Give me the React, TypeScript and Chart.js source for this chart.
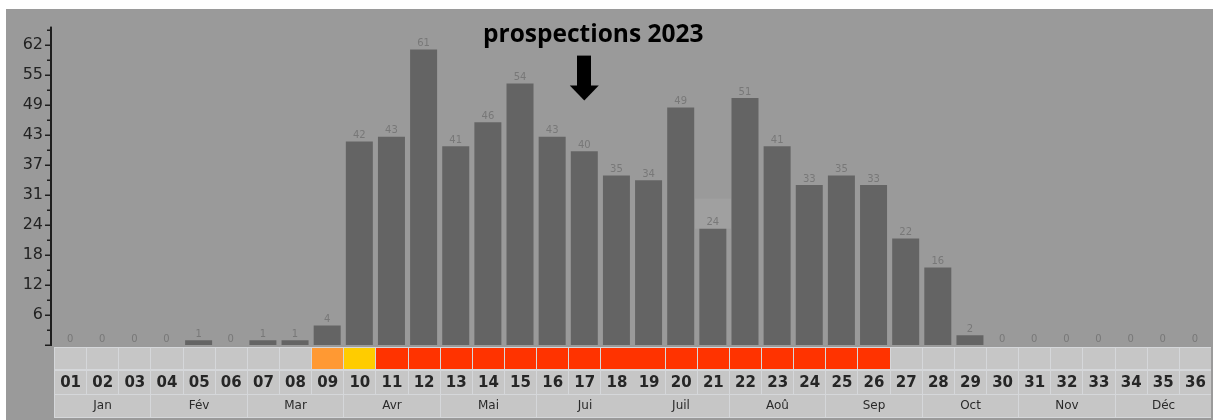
import React, { useEffect, useRef } from 'react';
import { Chart, registerables } from 'chart.js';

Chart.register(...registerables);

// ---- data ----
const weeks = ['01','02','03','04','05','06','07','08','09','10','11','12','13','14','15','16','17','18','19','20','21','22','23','24','25','26','27','28','29','30','31','32','33','34','35','36'];
const counts = [0,0,0,0,1,0,1,1,4,42,43,61,41,46,54,43,40,35,34,49,24,51,41,33,35,33,22,16,2,0,0,0,0,0,0,0];
// 0 = none, 1 = orange, 2 = yellow, 3 = red
const weekStatus = [0,0,0,0,0,0,0,0,1,2,3,3,3,3,3,3,3,3,3,3,3,3,3,3,3,3,0,0,0,0,0,0,0,0,0,0];
const months = ['Jan','Fév','Mar','Avr','Mai','Jui','Juil','Aoû','Sep','Oct','Nov','Déc'];
const weeksPerMonth = 3;
const yTickLabels = ['6','12','18','24','31','37','43','49','55','62'];
const yStep = 3.1;
const yMax = 65.1;
const titleText = 'prospections 2023';
const arrowWeek = '17';
const highlightWeek = '21';

// ---- styles ----
const BG = '#9a9a9a';
const BAR = '#646464';
const CELL = '#c6c6c6';
const SEP = '#d5d7da';
const STATUS_COLORS = [CELL, '#ff9933', '#ffcc00', '#ff3300'];

const decorPlugin = {
  id: 'decor',
  beforeDatasetsDraw(chart: any) {
    const ctx = chart.ctx;
    const meta = chart.getDatasetMeta(0);
    const idx = weeks.indexOf(highlightWeek);
    const el = meta.data[idx];
    if (el) {
      ctx.save();
      ctx.fillStyle = '#a0a0a0';
      const w = chart.scales.x.width / weeks.length;
      ctx.fillRect(Math.round(el.x - w / 2 - 2), el.y - 30, Math.round(w + 4), 30);
      ctx.restore();
    }
  },
  afterDraw(chart: any) {
    const ctx = chart.ctx;
    const area = chart.chartArea;
    const xs = chart.scales.x;
    const ys = chart.scales.y;
    const meta = chart.getDatasetMeta(0);
    const cw = xs.width / weeks.length;
    ctx.save();

    // y axis line + ticks
    const axX = area.left - 4;
    ctx.fillStyle = '#1e1e1e';
    ctx.fillRect(axX, area.top - 3, 2, area.bottom - area.top + 4);
    ys.ticks.forEach((t: any, i: number) => {
      const py = Math.round(ys.getPixelForValue(t.value));
      const len = i % 2 === 0 ? 5 : 3;
      ctx.fillRect(axX - len, py - 0.5, len + 1, 1.5);
    });

    // value labels
    ctx.font = '10px "DejaVu Sans"';
    ctx.fillStyle = '#787878';
    ctx.textAlign = 'center';
    ctx.textBaseline = 'bottom';
    meta.data.forEach((el: any, i: number) => {
      ctx.fillText(String(counts[i]), el.x, el.y - 1);
    });

    // bottom rows
    const b = area.bottom;
    ctx.fillStyle = SEP;
    ctx.fillRect(Math.round(area.left), b + 2, Math.round(area.right - area.left), 71);
    const rowColor = { y: b + 3, h: 21 };
    const rowWeek = { y: b + 26, h: 23 };
    const rowMonth = { y: b + 50, h: 22 };
    weeks.forEach((wk, i) => {
      const cx = xs.getPixelForValue(i);
      const x0 = Math.round(cx - cw / 2) + 1;
      const x1 = Math.round(cx + cw / 2);
      ctx.fillStyle = STATUS_COLORS[weekStatus[i]];
      ctx.fillRect(x0, rowColor.y, x1 - x0, rowColor.h);
      ctx.fillStyle = CELL;
      ctx.fillRect(x0, rowWeek.y, x1 - x0, rowWeek.h);
    });
    ctx.font = 'bold 15px "DejaVu Sans"';
    ctx.fillStyle = '#262626';
    ctx.textBaseline = 'middle';
    weeks.forEach((wk, i) => {
      const cx = xs.getPixelForValue(i);
      ctx.fillText(wk, cx + 0.5, rowWeek.y + rowWeek.h / 2 + 1);
    });
    ctx.font = '12px "DejaVu Sans"';
    months.forEach((m, j) => {
      const first = j * weeksPerMonth;
      const last = first + weeksPerMonth - 1;
      const x0 = Math.round(xs.getPixelForValue(first) - cw / 2) + 1;
      const x1 = Math.round(xs.getPixelForValue(last) + cw / 2);
      ctx.fillStyle = CELL;
      ctx.fillRect(x0, rowMonth.y, x1 - x0, rowMonth.h);
      ctx.fillStyle = '#2a2a2a';
      ctx.fillText(m, (x0 + x1) / 2, rowMonth.y + rowMonth.h / 2);
    });

    // arrow
    const ax = xs.getPixelForValue(weeks.indexOf(arrowWeek));
    const t = area.top;
    ctx.fillStyle = '#000';
    ctx.fillRect(Math.round(ax - 7), t + 26, 14, 31);
    ctx.beginPath();
    ctx.moveTo(ax - 14.5, t + 56);
    ctx.lineTo(ax + 14.5, t + 56);
    ctx.lineTo(ax, t + 71);
    ctx.closePath();
    ctx.fill();

    // title
    ctx.font = 'bold 24.5px "Open Sans"';
    ctx.fillStyle = '#000';
    ctx.textBaseline = 'alphabetic';
    ctx.fillText(titleText, ax + 9, t + 12.5);

    ctx.restore();
  },
};

export default function App() {
  const ref = useRef<HTMLCanvasElement | null>(null);
  useEffect(() => {
    if (!ref.current) return;
    const chart = new Chart(ref.current, {
      type: 'bar',
      data: {
        labels: weeks,
        datasets: [
          {
            data: counts,
            backgroundColor: BAR,
            borderWidth: 0,
            barPercentage: 0.84,
            categoryPercentage: 1,
          },
        ],
      },
      options: {
        responsive: false,
        animation: false,
        devicePixelRatio: 1,
        layout: { padding: { left: 0, right: 2, top: 17, bottom: 75 } },
        plugins: { legend: { display: false }, tooltip: { enabled: false }, title: { display: false } },
        scales: {
          x: { display: false, offset: true },
          y: {
            min: 0,
            max: yMax,
            afterFit: (s: any) => { s.width = 48; },
            border: { display: false },
            grid: { display: false, drawTicks: false },
            ticks: {
              stepSize: yStep,
              padding: 11,
              color: '#222',
              font: { family: 'DejaVu Sans', size: 16 },
              autoSkip: false,
              callback: (v: any) => {
                const k = Math.round(Number(v) / yStep);
                if (k > 0 && k % 2 === 0) return yTickLabels[k / 2 - 1] ?? '';
                return '';
              },
            },
          },
        },
      },
      plugins: [decorPlugin],
    });
    return () => chart.destroy();
  }, []);
  return (
    <div style={{ position: 'fixed', left: 6, top: 9, width: 1207, height: 411, background: BG }}>
      <canvas ref={ref} width={1207} height={411} style={{ display: 'block' }} />
    </div>
  );
}
